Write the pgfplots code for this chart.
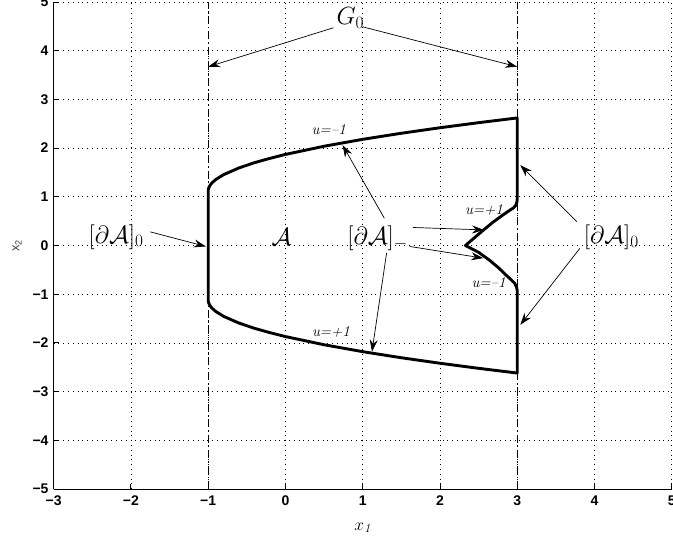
\documentclass[border=0pt]{standalone}
\usepackage{pgfplots}
\pgfplotsset{compat=1.18}
\usepackage{fontspec}
\newfontfamily\tickfont{Liberation Sans}
\usetikzlibrary{arrows.meta}

\begin{document}
\begin{tikzpicture}[
  arr/.style={line width=0.7pt, -{Stealth[length=12pt,width=8pt,inset=4pt]}},
  big/.style={font=\fontsize{26}{26}\selectfont, inner sep=0pt},
  ulab/.style={font=\fontsize{15}{15}\selectfont\itshape, inner sep=0pt}]
\begin{axis}[
  scale only axis, width=618pt, height=487pt,
  xmin=-3, xmax=5, ymin=-5, ymax=5,
  axis x line*=bottom, axis y line*=left,
  axis line style={line width=0.9pt},
  xtick={-3,...,5}, ytick={-5,...,5},
  xticklabels={−3,−2,−1,0,1,2,3,4,5},
  yticklabels={−5,−4,−3,−2,−1,0,1,2,3,4,5},
  tick label style={font=\tickfont\bfseries\fontsize{14}{14}\selectfont},
  xticklabel style={anchor=north, inner sep=0pt, yshift=-7pt},
  yticklabel style={anchor=east, inner sep=0pt, xshift=-5pt},
  tick align=inside, major tick length=5pt,
  tick style={line width=0.9pt, black},
  grid=major,
  grid style={black, line width=0.7pt, dash pattern=on 0.8pt off 4pt},
  xlabel={$x_{\mathit{1}}$},
  xlabel style={at={(axis description cs:0.5,-0.080)}, anchor=center, font=\fontsize{18}{18}\selectfont},
  ylabel={\tickfont x\textsubscript{2}},
  ylabel style={at={(axis description cs:-0.0594,0.5)}, anchor=center, font=\fontsize{13}{13}\selectfont, black!75},
  clip=false,
]
% reference lines G_0
\addplot[black, line width=0.9pt, dash pattern=on 8pt off 3pt on 1.5pt off 3pt] coordinates {(-1,-5) (-1,5)};
\addplot[black, line width=0.9pt, dash pattern=on 8pt off 3pt on 1.5pt off 3pt] coordinates {(3,-5) (3,5)};

% boundary of the set A
\addplot[black, line width=2.9pt, line join=round] coordinates {
  (-1,-1.120) (-1,1.120) (-0.998,1.154) (-0.99,1.195) (-0.97,1.250) (-0.95,1.288)
  (-0.9,1.357) (-0.8,1.455) (-0.6,1.594) (-0.4,1.701) (-0.2,1.790) (0,1.870)
  (0.5,2.038) (1,2.180) (1.5,2.305) (2,2.418) (2.5,2.522) (3,2.619)
  (3,0.95) (2.995,0.88) (2.98,0.82) (2.95,0.77) (2.9,0.72) (2.8,0.61) (2.68,0.47) (2.55,0.30) (2.33,0)
  (2.5,-0.14) (2.64,-0.30) (2.76,-0.46) (2.85,-0.60) (2.92,-0.70) (2.97,-0.78) (2.99,-0.85) (3,-0.92)
  (3,-2.619) (2.5,-2.522) (2,-2.418) (1.5,-2.305) (1,-2.180) (0.5,-2.038) (0,-1.870)
  (-0.2,-1.790) (-0.4,-1.701) (-0.6,-1.594) (-0.8,-1.455) (-0.9,-1.357) (-0.95,-1.288)
  (-0.97,-1.250) (-0.99,-1.195) (-0.998,-1.154) (-1,-1.120)
};

% labels
\node[font=\fontsize{23}{23}\selectfont, inner sep=1pt] at (axis cs:0.84,4.67) {$G_0$};
\draw[arr] (axis cs:0.62,4.47) -- (axis cs:-1,3.67);
\draw[arr] (axis cs:1.0,4.49) -- (axis cs:3,3.67);

\node[big, anchor=base west] at (axis cs:-2.55,0.05) {$[\partial\mathcal{A}]_0$};
\draw[arr] (axis cs:-1.75,0.28) -- (axis cs:-1.03,-0.02);

\node[big, anchor=base] at (axis cs:-0.05,0.0) {$\mathcal{A}$};

\node[big, anchor=base west] at (axis cs:0.80,0.02) {$[\partial\mathcal{A}]_-$};
\draw[arr] (axis cs:1.28,0.56) -- (axis cs:0.74,2.06);
\draw[arr] (axis cs:1.31,-0.15) -- (axis cs:1.12,-2.18);
\draw[arr] (axis cs:1.65,0.37) -- (axis cs:2.57,0.32);
\draw[arr] (axis cs:1.61,-0.02) -- (axis cs:2.56,-0.26);

\node[big, anchor=base west] at (axis cs:3.86,0.04) {$[\partial\mathcal{A}]_0$};
\draw[arr] (axis cs:3.77,0.49) -- (axis cs:3.04,1.65);
\draw[arr] (axis cs:3.81,-0.06) -- (axis cs:3.04,-1.63);

\node[ulab] at (axis cs:0.56,2.38) {u=--1};
\node[ulab] at (axis cs:0.59,-1.77) {u=+1};
\node[ulab] at (axis cs:2.57,0.73) {u=+1};
\node[ulab] at (axis cs:2.63,-0.77) {u=--1};

\coordinate (sw) at (rel axis cs:0,0);
\coordinate (ne) at (rel axis cs:1,1);
\end{axis}
\pgfresetboundingbox
\useasboundingbox ([shift={(-53.7pt,-48pt)}]sw) rectangle ([shift={(1.3pt,2pt)}]ne);
\end{tikzpicture}
\end{document}
